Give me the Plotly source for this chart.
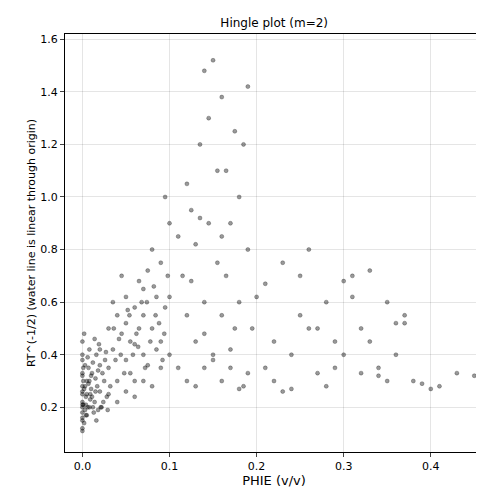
import plotly.graph_objects as go

# Points (PHIE, RT^(-1/2))
phie_core = [0.0, 0.0, 0.0, 0.0, 0.0, 0.0, 0.0, 0.0, 0.0, 0.0, 0.002, 0.003, 0.004, 0.005, 0.006, 0.007, 0.008, 0.01, 0.012, 0.014,
             0.015, 0.016, 0.018, 0.02, 0.02, 0.022, 0.025, 0.028, 0.03, 0.0, 0.001, 0.002, 0.004, 0.006, 0.009, 0.011, 0.013, 0.017, 0.019, 0.021,
             0.0, 0.0, 0.0, 0.001, 0.003, 0.005, 0.008, 0.01, 0.012, 0.015, 0.018, 0.02, 0.024, 0.026, 0.0, 0.002, 0.004, 0.007, 0.009, 0.014,
             0.0, 0.001, 0.003, 0.005, 0.008, 0.011, 0.016, 0.023, 0.027, 0.029]
rt_core = [0.12, 0.15, 0.18, 0.2, 0.22, 0.25, 0.28, 0.32, 0.38, 0.45, 0.14, 0.19, 0.24, 0.3, 0.2, 0.35, 0.42, 0.27, 0.2, 0.22,
           0.31, 0.4, 0.19, 0.26, 0.36, 0.2, 0.3, 0.24, 0.5, 0.11, 0.21, 0.48, 0.17, 0.39, 0.23, 0.33, 0.18, 0.28, 0.44, 0.2,
           0.16, 0.21, 0.26, 0.3, 0.36, 0.25, 0.2, 0.32, 0.37, 0.26, 0.34, 0.42, 0.22, 0.38, 0.33, 0.27, 0.21, 0.29, 0.25, 0.46,
           0.4, 0.35, 0.28, 0.17, 0.3, 0.24, 0.15, 0.33, 0.41, 0.19]

phie_mid = [0.03, 0.035, 0.04, 0.04, 0.045, 0.05, 0.05, 0.055, 0.06, 0.06, 0.065, 0.07, 0.07, 0.075, 0.08, 0.08, 0.085, 0.09, 0.09, 0.095,
            0.1, 0.1, 0.03, 0.04, 0.05, 0.06, 0.07, 0.08, 0.09, 0.1, 0.035, 0.045, 0.055, 0.065, 0.075, 0.085, 0.095, 0.05, 0.06, 0.07,
            0.032, 0.038, 0.042, 0.048, 0.052, 0.058, 0.062, 0.068, 0.072, 0.078, 0.082, 0.088, 0.092, 0.098,
            0.036, 0.044, 0.054, 0.064, 0.074, 0.084, 0.094]
rt_mid = [0.35, 0.42, 0.3, 0.55, 0.48, 0.38, 0.62, 0.45, 0.3, 0.58, 0.68, 0.4, 0.55, 0.72, 0.5, 0.8, 0.62, 0.45, 0.75, 0.58,
          0.9, 0.4, 0.25, 0.22, 0.26, 0.24, 0.3, 0.28, 0.35, 0.62, 0.6, 0.7, 0.33, 0.5, 0.36, 0.42, 1.0, 0.52, 0.44, 0.65,
          0.28, 0.38, 0.46, 0.33, 0.57, 0.4, 0.48, 0.6, 0.35, 0.45, 0.66, 0.52, 0.38, 0.7,
          0.5, 0.4, 0.55, 0.43, 0.6, 0.55, 0.48]

phie_peak = [0.11, 0.115, 0.12, 0.12, 0.125, 0.13, 0.13, 0.135, 0.14, 0.14, 0.145, 0.15, 0.15, 0.155, 0.16, 0.16, 0.165, 0.17, 0.17, 0.175,
             0.18, 0.18, 0.185, 0.19, 0.19, 0.195, 0.2, 0.11, 0.12, 0.13, 0.14, 0.15, 0.16, 0.17, 0.18, 0.19, 0.125, 0.135, 0.145, 0.155,
             0.165, 0.175, 0.185, 0.14, 0.16]
rt_peak = [0.85, 0.7, 1.05, 0.55, 0.95, 0.82, 0.45, 1.2, 0.6, 1.48, 0.9, 0.38, 1.52, 0.75, 1.38, 0.55, 1.1, 0.9, 0.42, 1.25,
           1.0, 0.6, 1.2, 0.8, 1.42, 0.5, 0.62, 0.35, 0.3, 0.28, 0.35, 0.4, 0.3, 0.35, 0.27, 0.33, 0.68, 0.92, 1.3, 1.1,
           0.7, 0.5, 0.28, 0.48, 0.85]

phie_tail = [0.21, 0.22, 0.23, 0.24, 0.25, 0.26, 0.27, 0.28, 0.29, 0.3, 0.31, 0.32, 0.33, 0.34, 0.35, 0.36, 0.37, 0.38, 0.39, 0.4,
             0.41, 0.43, 0.45, 0.22, 0.24, 0.26, 0.28, 0.3, 0.32, 0.34, 0.36, 0.25, 0.27, 0.29, 0.31, 0.33, 0.35, 0.37, 0.21, 0.23]
rt_tail = [0.67, 0.45, 0.75, 0.4, 0.55, 0.8, 0.33, 0.6, 0.45, 0.4, 0.7, 0.33, 0.72, 0.32, 0.6, 0.52, 0.52, 0.3, 0.29, 0.27,
           0.28, 0.33, 0.32, 0.3, 0.27, 0.5, 0.28, 0.68, 0.5, 0.35, 0.4, 0.7, 0.5, 0.35, 0.62, 0.45, 0.3, 0.55, 0.35, 0.26]

phie = phie_core + phie_mid + phie_peak + phie_tail
rt = rt_core + rt_mid + rt_peak + rt_tail

fig = go.Figure()
fig.add_trace(go.Scatter(x=phie, y=rt, mode='markers',
                         marker=dict(color='rgba(0,0,0,0.4)', size=4,
                                     line=dict(width=0.5, color='rgba(0,0,0,0.5)'))))

axis = dict(showline=True, linecolor='black', mirror=True, ticks='outside', ticklen=4,
            gridcolor='rgba(0,0,0,0.1)', zeroline=False, tickfont=dict(size=11))
fig.update_layout(
    width=484, height=492, plot_bgcolor='white', paper_bgcolor='white',
    font=dict(family='DejaVu Sans', color='black', size=11),
    title=dict(text='Hingle plot (m=2)', x=0.55, xanchor='center', y=0.978, font=dict(size=12)),
    margin=dict(l=57, r=9, t=26, b=48), showlegend=False,
    xaxis=dict(axis, title=dict(text='PHIE (v/v)', standoff=2), range=[-0.02, 0.46],
               tickvals=[0, 0.1, 0.2, 0.3, 0.4], ticktext=['0.0', '0.1', '0.2', '0.3', '0.4']),
    yaxis=dict(axis, title=dict(text='RT^(-1/2) (water line is linear through origin)', standoff=2, font=dict(size=11)),
               range=[0.03, 1.62], tickvals=[0.2, 0.4, 0.6, 0.8, 1.0, 1.2, 1.4, 1.6],
               ticktext=['0.2', '0.4', '0.6', '0.8', '1.0', '1.2', '1.4', '1.6']),
)
fig.write_html("out.html")
